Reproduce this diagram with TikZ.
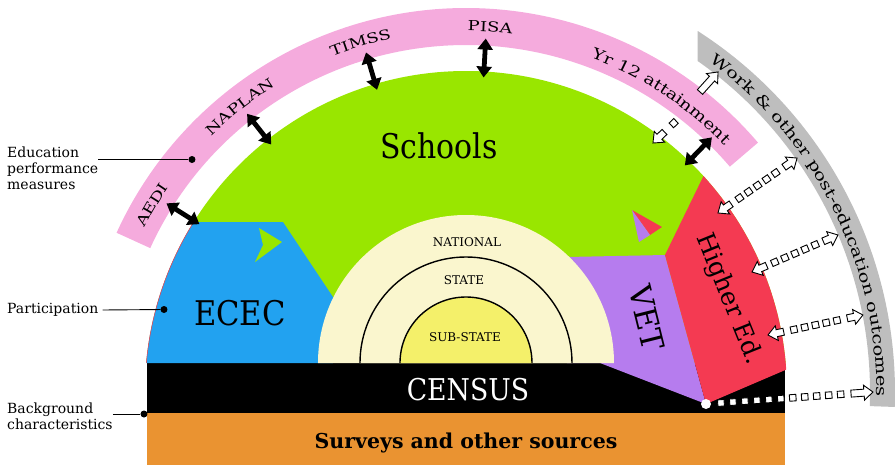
\documentclass[tikz,border=0pt]{standalone}
\usepackage{fontspec}
\setmainfont{DejaVu Serif}
\newfontfamily\widecaps[FakeStretch=1.3]{DejaVu Serif}
\newfontfamily\widetext[FakeStretch=1.25]{DejaVu Serif}
\newfontfamily\widegray[FakeStretch=1.3]{DejaVu Serif}
\usepackage{graphicx}
\usetikzlibrary{arrows.meta,decorations.text}
\definecolor{cGreen}{HTML}{99E600}
\definecolor{cBlue}{HTML}{22A2F0}
\definecolor{cPurple}{HTML}{B67CEE}
\definecolor{cRed}{HTML}{F43A52}
\definecolor{cPink}{HTML}{F5ABDD}
\definecolor{cGray}{HTML}{BEBEBE}
\definecolor{cOrange}{HTML}{EA9331}
\definecolor{cCream}{HTML}{FAF6CE}
\definecolor{cYellow}{HTML}{F4F06A}
\newcommand\capsfont{\widecaps\fontsize{13.8}{14}\selectfont}
\newcommand\yrfont{\widetext\fontsize{15}{15}\selectfont}
\newcommand\grayfont{\widegray\fontsize{15}{15}\selectfont}
% #1 label, #2 centre angle, #3 baseline radius, #4 half span, #5 font
\newcommand\arclabel[5]{%
  \path[decorate,decoration={text along path,text align=center,text={|#5|#1}}]
    ({#2+#4}:#3) arc[start angle={#2+#4}, end angle={#2-#4}, radius=#3];}
% #1 x, #2 y, #3 angle, #4 length, #5 squares, #6 first square, #7 pitch, #8 double, #9 stub
\newcommand\hollowarrow[9]{%
  \begin{scope}[shift={(#1,#2)},rotate=#3]
    \draw[hol] (#4,0) -- ++(-9,7.5) -- ++(0,-4) -- ({#4-#9},3.5) -- ({#4-#9},-3.5) -- ({#4-9},-3.5) -- ++(0,-4) -- cycle;
    \ifnum#8=1 \draw[hol] (0,0) -- ++(9,7.5) -- ++(0,-4) -- (#9,3.5) -- (#9,-3.5) -- (9,-3.5) -- ++(0,-4) -- cycle;\fi
    \ifnum#5>0 \foreach \i in {1,...,#5}{\draw[hol] ({#6+(\i-1)*#7-3.25},-3.25) rectangle ++(6.5,6.5);}\fi
  \end{scope}}
\begin{document}
\begin{tikzpicture}[x=1pt,y=1pt,
  hol/.style={draw=black,fill=white,line width=0.9pt,line join=miter},
  blk/.style={line width=4.8pt,{Triangle[length=11pt,width=15pt]}-{Triangle[length=11pt,width=15pt]}},
  lbl/.style={inner sep=0pt,align=left,font=\fontsize{14}{16}\selectfont},
  dot/.style={circle,fill=black,inner sep=0pt,minimum size=7pt}]
\useasboundingbox (-466,-75) rectangle (429,392);
% bands
\fill[cPink] (40.5:384) arc[start angle=40.5,end angle=155.5,radius=384] -- (155.5:347) arc[start angle=155.5,end angle=40.5,radius=347] -- cycle;
\fill[cGray] (57.3:429) arc[start angle=57.3,end angle=-2,radius=429] -- (-2:404) arc[start angle=-2,end angle=55,radius=404] -- cycle;
% base bars
\fill[cOrange] (-319,-73) rectangle (319,-21);
\fill[black] (-319,-21) rectangle (319,29);
% sectors
\begin{scope}
  \clip (0,0) circle (321);
  \fill[cGreen] (-330,29) rectangle (330,330);
  \fill[cBlue] (-340,29) -- (-340,170) -- (-183,170) -- (-133,95) -- (-133,29) -- cycle;
  \fill[cPurple] (101,135) -- (199,137) -- (240,-12) -- (134,29) -- (101,29) -- cycle;
  \fill[cRed] (240,-12) -- (199,137) -- (294,332) -- (450,332) -- (450,78) -- cycle;
\end{scope}
\draw[cRed,line width=0.5pt] (174.8:321) arc[start angle=174.8,end angle=148,radius=321];
% inner circles
\fill[cCream] (-148,29) arc[start angle=180,end angle=0,radius=148] -- cycle;
\draw[fill=cCream,line width=1.4pt] (-106,29) arc[start angle=180,end angle=0,radius=106];
\draw[fill=cYellow,line width=1.4pt] (-66,29) arc[start angle=180,end angle=0,radius=66];
% small arrowhead marks
\fill[cGreen] (-207,164) -- (-184,150) -- (-211,130) -- (-203,147) -- cycle;
\fill[cRed] (166,182) -- (196,165) -- (184,157) -- cycle;
\fill[cPurple] (166,182) -- (184,157) -- (173,150) -- cycle;
% texts
\node[anchor=base] (schools) at (-27,234) {\scalebox{0.88}[1]{\fontsize{34}{34}\selectfont Schools}};
\node[anchor=base] (ecec) at (-226,67) {\scalebox{0.9}[1]{\fontsize{34}{34}\selectfont ECEC}};
\node[anchor=base,text=white] (census) at (2,-8) {\scalebox{0.89}[1]{\fontsize{30}{30}\selectfont CENSUS}};
\node[anchor=base] (surveys) at (0,-56) {\fontsize{20.5}{21}\selectfont\bfseries Surveys and other sources};
\node[rotate=-76] (vet) at (181,74) {\fontsize{31}{31}\selectfont VET};
\node[rotate=-68] (hed) at (263,93) {\fontsize{25}{25}\selectfont Higher Ed.};
\node (nat) at (1,150) {\fontsize{12}{12}\selectfont NATIONAL};
\node (state) at (-2,112) {\fontsize{12}{12}\selectfont STATE};
\node (sub) at (-1,55) {\fontsize{12}{12}\selectfont SUB-STATE};
% arc labels
\arclabel{AEDI}{149.2}{361}{25}{\capsfont}
\arclabel{NAPLAN}{128.4}{361}{25}{\capsfont}
\arclabel{TIMSS}{106.8}{361}{25}{\capsfont}
\arclabel{PISA}{86.2}{361}{25}{\capsfont}
\arclabel{Yr 12 attainment}{56.6}{357}{34}{\yrfont}
\arclabel{Work {\&} other post-education outcomes}{26.5}{410.5}{42}{\grayfont}
% black double arrows
\foreach \a in {147.8,128.2,106.4,86.8,46.0}
  \draw[blk] (\a:315) -- (\a:354);
% hollow arrows
\hollowarrow{252}{179}{34.8}{96.3}{5}{26.15}{11}{1}{16}
\hollowarrow{286}{120}{23.3}{93.6}{5}{24.8}{11}{1}{16}
\hollowarrow{302}{57}{11.9}{97}{5}{26.5}{11}{1}{16}
\hollowarrow{240}{-12}{4.1}{167.4}{11}{15}{12}{0}{22}
\hollowarrow{212}{273}{223.8}{34.7}{1}{6}{10}{0}{16}
\hollowarrow{234}{300}{48}{27}{0}{0}{0}{0}{27}
\fill[white] (240,-12) circle (5);
% left labels
\node[lbl,anchor=north west] (edu) at (-459,245) {Education\\performance\\measures};
\node[lbl,anchor=west] (part) at (-459,82) {Participation};
\node[lbl,anchor=north west] (bg) at (-459,-11) {Background\\characteristics};
\node[dot] (dEdu) at (-274,232.5) {};
\node[dot] (dPart) at (-302,82.5) {};
\node[dot] (dBg) at (-322,-22) {};
\draw[line width=0.9pt] (edu.east |- dEdu) -- (dEdu);
\draw[line width=0.9pt] (part.east) ++(4,0) -- (dPart);
\draw[line width=0.9pt] (bg.east |- dBg) -- (dBg);
\end{tikzpicture}
\end{document}
